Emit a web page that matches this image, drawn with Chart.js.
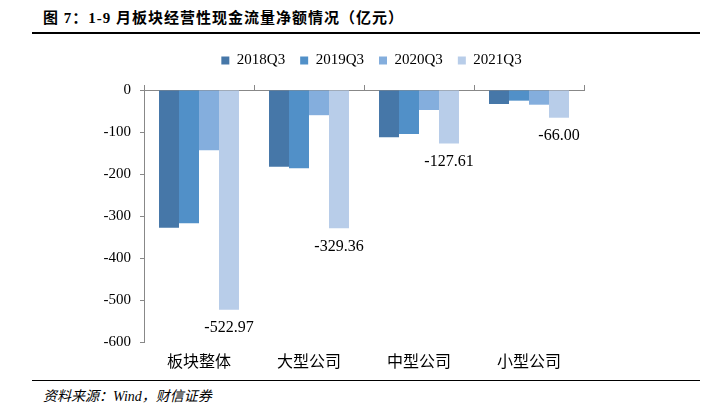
<!DOCTYPE html>
<html>
<head>
<meta charset="utf-8">
<script src="https://cdn.jsdelivr.net/npm/chart.js@4.4.1/dist/chart.umd.min.js"></script>
<style>
  body { margin: 0; width: 712px; height: 408px; background: #fff; position: relative; overflow: hidden; }
  #title { position: absolute; left: 43px; top: 6px; font: bold 15px "Liberation Serif", "Noto Sans CJK SC", serif; letter-spacing: 1px; color: #000; }
  #topline { position: absolute; left: 32px; width: 668px; top: 32px; height: 2px; background: #000; }
  #source { position: absolute; left: 32px; width: 657px; top: 380px; padding: 4px 0 0 11px; border-top: 1px solid #000; font: italic 14px "Liberation Serif", "Noto Sans CJK SC", serif; color: #000; }
  #wrap { position: absolute; left: 0; top: 38px; width: 712px; height: 339px; }
</style>
</head>
<body>
<div id="title">图 7：1-9 月板块经营性现金流量净额情况（亿元）</div>
<div id="topline"></div>
<div id="wrap"><canvas id="c"></canvas></div>
<div id="source">资料来源：Wind，财信证券</div>
<script>
var categories = ['板块整体', '大型公司', '中型公司', '小型公司'];
var seriesNames = ['2018Q3', '2019Q3', '2020Q3', '2021Q3'];
var v2018 = [-328, -182.5, -112.7, -33.3];
var v2019 = [-317, -186.5, -104.8, -25.4];
var v2020 = [-143.6, -60, -47.6, -35];
var v2021 = [-522.97, -329.36, -127.61, -66.00];
var colors = ['#4677a8', '#5190c8', '#84aedd', '#b8cde9'];

var serif = "'Liberation Serif', 'Noto Sans CJK SC', serif";

// value labels under the 2021 bars
var labelPlugin = {
  id: 'lastLabels',
  afterLayout: function (chart) {
    // centre legend over the plot area rather than the padded canvas
    chart.legend.left += 36;
    chart.legend.right += 36;
  },
  afterDatasetsDraw: function (chart) {
    var ctx = chart.ctx;
    var meta = chart.getDatasetMeta(3);
    ctx.save();
    ctx.font = '16px ' + serif;
    ctx.fillStyle = '#000';
    ctx.textAlign = 'center';
    ctx.textBaseline = 'middle';
    meta.data.forEach(function (bar, i) {
      ctx.fillText(v2021[i].toFixed(2), bar.x, bar.y + 18);
    });
    ctx.restore();
  }
};

var allSeries = [v2018, v2019, v2020, v2021];
var datasets = allSeries.map(function (vals, i) {
  return {
    label: seriesNames[i],
    data: vals,
    backgroundColor: colors[i],
    xAxisID: 'x',
    barPercentage: 1.0,
    categoryPercentage: 0.727
  };
});

new Chart(document.getElementById('c').getContext('2d'), {
  type: 'bar',
  data: { labels: categories, datasets: datasets },
  plugins: [labelPlugin],
  options: {
    responsive: true,
    maintainAspectRatio: false,
    animation: false,
    layout: { padding: { left: 87, right: 128, top: 0, bottom: 0 } },
    plugins: {
      legend: {
        position: 'top',
        labels: {
          boxWidth: 8, boxHeight: 8, padding: 15,
          color: '#000',
          font: { family: serif, size: 15 }
        }
      },
      tooltip: { enabled: false }
    },
    scales: {
      x: {
        position: 'bottom',
        afterFit: function (s) { s.height = 35; },
        grid: { display: false, drawTicks: false },
        border: { display: false },
        ticks: { color: '#000', padding: 11, font: { family: serif, size: 16 } }
      },
      x2: {
        type: 'category',
        position: 'top',
        labels: categories,
        offset: true,
        afterFit: function (s) { s.height = 12; },
        grid: { offset: true, drawOnChartArea: false, tickLength: 5, color: '#888' },
        border: { display: true, color: '#888' },
        ticks: { display: false }
      },
      y: {
        min: -600, max: 0,
        afterFit: function (s) { s.width = 57; },
        grid: { drawOnChartArea: false, tickLength: 4, color: '#888' },
        border: { display: true, color: '#888' },
        ticks: { stepSize: 100, color: '#000', padding: 9, font: { family: serif, size: 15 } }
      }
    }
  }
});
</script>
</body>
</html>
